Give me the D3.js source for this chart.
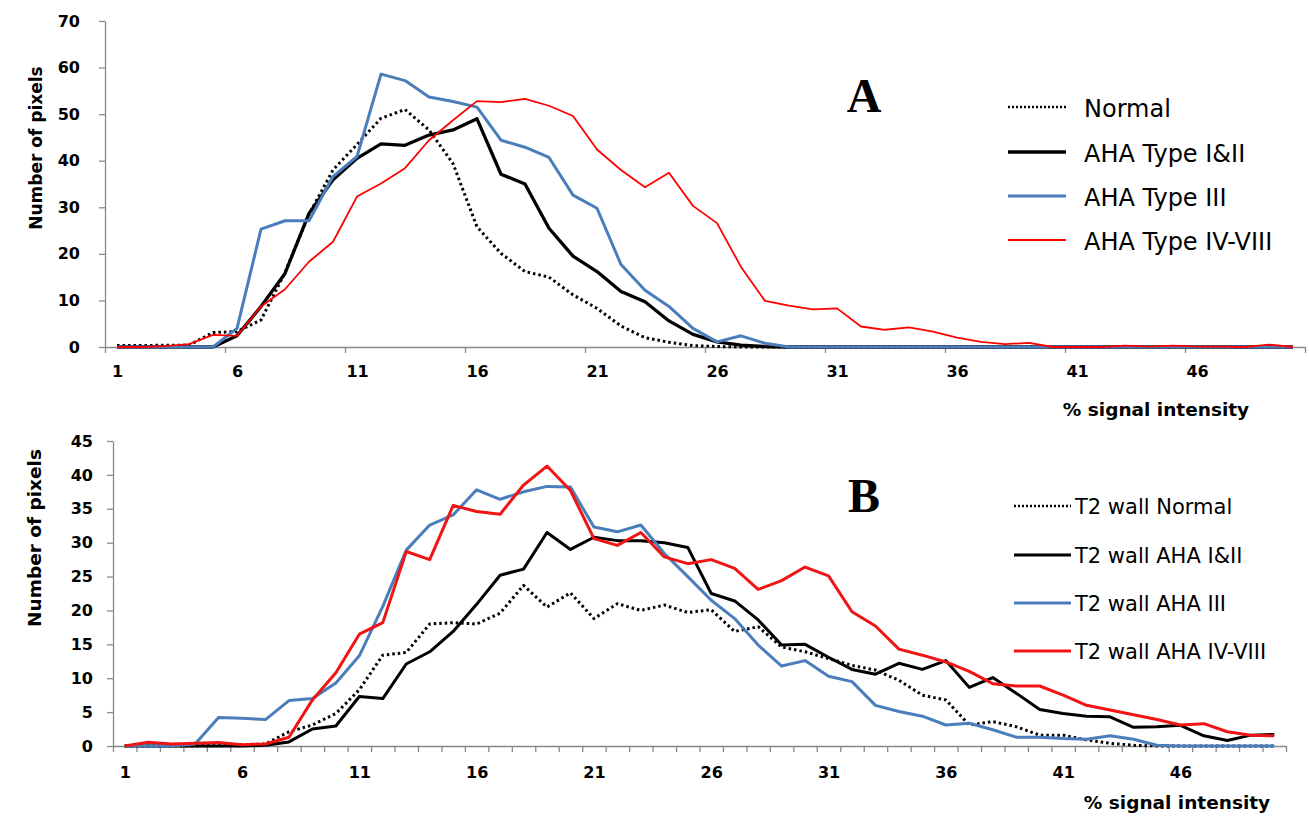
<!DOCTYPE html>
<html><head><meta charset="utf-8">
<script src="https://cdn.jsdelivr.net/npm/d3@7"></script>
<style>body{margin:0;background:#fff} svg{display:block}</style>
</head><body>
<svg id="c" width="1309" height="817"></svg>
<script>
// ---------- data ----------
const categories = [1,2,3,4,5,6,7,8,9,10,11,12,13,14,15,16,17,18,19,20,21,22,23,24,25,26,27,28,29,30,31,32,33,34,35,36,37,38,39,40,41,42,43,44,45,46,47,48,49,50];
const xTickLabels = [1,6,11,16,21,26,31,36,41,46];
const yTicksA = [0,10,20,30,40,50,60,70];
const yTicksB = [0,5,10,15,20,25,30,35,40,45];

const seriesNamesA = ["Normal","AHA Type I&II","AHA Type III","AHA Type IV-VIII"];
const seriesNamesB = ["T2 wall Normal","T2 wall AHA I&II","T2 wall AHA III","T2 wall AHA IV-VIII"];

const normalA = [0.3,0.3,0.4,0.4,3.1,3.3,5.8,16,28.5,38,43.5,49.1,51,46.6,39.4,25.8,20.1,16.2,15,11.2,8.3,4.5,2,1,0.3,0.1,0,0,0,0,0,0,0,0,0,0,0,0,0,0,0,0,0,0,0,0,0,0,0,0];
const ahaI_II_A = [0,0,0,0,0,2.4,8.7,15.8,28.7,35.9,40.5,43.6,43.3,45.5,46.6,49,37.1,35,25.5,19.5,16.2,11.9,9.7,5.6,2.7,1.1,0.4,0.1,0,0,0,0,0,0,0,0,0,0,0,0,0,0,0,0,0,0,0,0,0,0];
const ahaIII_A = [0,0,0,0,0,4,25.3,27.1,27.1,36.6,40.9,58.6,57.2,53.7,52.7,51.5,44.4,42.9,40.7,32.6,29.8,17.7,12.2,8.7,4,1.1,2.4,0.8,0,0,0,0,0,0,0,0,0,0,0,0,0,0,0,0,0,0,0,0,0,0];
const ahaIV_VIII_A = [0,0,0.2,0.6,2.6,2.4,8.7,12.4,18.3,22.6,32.3,35.1,38.4,44.4,48.7,52.8,52.6,53.3,51.8,49.6,42.4,38,34.3,37.4,30.3,26.6,17.2,9.9,8.9,8.1,8.3,4.4,3.7,4.2,3.3,2,1.1,0.6,0.9,0,0,0,0.3,0.1,0.3,0.1,0.1,0,0.5,0];

const normalB = [0,0,0,0,0.2,0.2,0.3,2.1,3.1,4.8,8.3,13.4,13.8,18,18.2,18,19.6,23.7,20.5,22.6,18.8,21,20,20.8,19.7,20.1,16.9,17.6,14.6,13.9,12.9,11.9,11.2,9.7,7.5,6.8,3.1,3.6,2.85,1.6,1.6,0.9,0.4,0.1,0,0,0,0,0,0];
const ahaI_II_B = [0,0,0,0,0,0,0.1,0.6,2.5,2.95,7.3,7,12.1,13.9,16.9,20.9,25.2,26.1,31.5,29,30.8,30.3,30.3,30,29.3,22.5,21.4,18.6,14.9,15,13.1,11.3,10.6,12.2,11.3,12.6,8.65,10.1,7.8,5.4,4.8,4.4,4.3,2.75,2.85,3.05,1.5,0.8,1.6,1.7];
const ahaIII_B = [0,0,0,0.3,4.2,4.1,3.9,6.7,7,9.3,13.3,20.6,28.9,32.6,34.1,37.8,36.4,37.5,38.3,38.2,32.3,31.6,32.6,28.4,25,21.5,18.8,14.9,11.8,12.6,10.3,9.5,6,5.1,4.4,3.1,3.35,2.4,1.3,1.3,1.1,1,1.5,1,0.1,0,0,0,0,0];
const ahaIV_VIII_B = [0,0.54,0.3,0.4,0.5,0.2,0.3,1.3,6.8,10.8,16.5,18.2,28.7,27.5,35.5,34.6,34.2,38.5,41.3,37.7,30.6,29.6,31.5,27.9,26.9,27.5,26.2,23.1,24.4,26.4,25.1,19.8,17.7,14.3,13.4,12.4,11,9.2,8.85,8.85,7.5,6,5.3,4.6,3.9,3.1,3.3,2.1,1.6,1.5];

// ---------- drawing ----------
const svg = d3.select('#c');
const AXIS = '#898989';
const FONT = "'DejaVu Sans', sans-serif";

function panel(cfg) {
  const g = svg.append('g');
  const x = d3.scaleLinear().domain([0.5, categories.length + 0.5]).range([cfg.left, cfg.right]);
  const y = d3.scaleLinear().domain([0, cfg.yMax]).range([cfg.bottom, cfg.top]);

  const bounds = d3.range(0.5, categories.length + 0.51, cfg.tickEvery);
  const xa = g.append('g').attr('transform', `translate(0,${cfg.bottom})`)
    .call(d3.axisBottom(x).tickValues(bounds).tickSize(6).tickSizeOuter(0).tickFormat(''));
  xa.selectAll('path,line').attr('stroke', AXIS).attr('stroke-width', 1.3);

  const xl = g.append('g').attr('transform', `translate(0,${cfg.bottom})`)
    .call(d3.axisBottom(x).tickValues(xTickLabels).tickSize(0).tickPadding(cfg.xPad));
  xl.select('.domain').remove();
  xl.selectAll('text').attr('font-family', FONT).attr('font-weight', 'bold').attr('font-size', 16).attr('fill', '#000');

  const ya = g.append('g').attr('transform', `translate(${cfg.left},0)`)
    .call(d3.axisLeft(y).tickValues(cfg.yTicks).tickSize(6).tickSizeOuter(0).tickPadding(cfg.yPad));
  ya.selectAll('path,line').attr('stroke', AXIS).attr('stroke-width', 1.3);
  ya.selectAll('text').attr('font-family', FONT).attr('font-weight', 'bold').attr('font-size', 16).attr('fill', '#000');

  g.append('text').attr('transform', `translate(${cfg.yTitleX},${cfg.yTitleY}) rotate(-90)`)
    .attr('text-anchor', 'middle').attr('dy', '0.35em')
    .attr('font-family', FONT).attr('font-weight', 'bold').attr('font-size', cfg.yTitleSize).attr('fill', '#000')
    .text('Number of pixels');
  g.append('text').attr('x', cfg.xTitleX).attr('y', cfg.xTitleY).attr('dy', '0.35em')
    .attr('text-anchor', 'middle')
    .attr('font-family', FONT).attr('font-weight', 'bold').attr('font-size', 18.5).attr('fill', '#000')
    .text('% signal intensity');

  const line = d3.line().x((d, i) => x(categories[i])).y(d => y(d));
  cfg.series.forEach(s => {
    g.append('path').datum(s.values).attr('d', line).attr('fill', 'none')
      .attr('stroke', s.color).attr('stroke-width', s.width)
      .attr('stroke-linejoin', 'round')
      .attr('stroke-dasharray', s.dash || null);
  });

  g.append('text').attr('x', cfg.letterX).attr('y', cfg.letterY).attr('text-anchor', 'middle')
    .attr('font-family', "'Liberation Serif', serif").attr('font-weight', 'bold')
    .attr('font-size', 48).attr('fill', '#000').text(cfg.letter);

  cfg.series.forEach((s, i) => {
    const yy = cfg.legY[i];
    g.append('line').attr('x1', cfg.legX1).attr('x2', cfg.legX2).attr('y1', yy).attr('y2', yy)
      .attr('stroke', s.color).attr('stroke-width', s.legWidth)
      .attr('stroke-dasharray', s.dash ? '2 2' : null);
    g.append('text').attr('x', cfg.legTextX).attr('y', yy + cfg.legTextDy).attr('dy', '0.35em')
      .attr('font-family', FONT).attr('font-size', cfg.legSize).attr('fill', '#000')
      .text(s.name);
  });
}

panel({
  left: 105, right: 1305, top: 21, bottom: 347, yMax: 70, yTicks: yTicksA,
  tickEvery: 5, xPad: 19, yPad: 19,
  yTitleX: 36, yTitleY: 148, yTitleSize: 17,
  xTitleX: 1156, xTitleY: 410,
  letter: 'A', letterX: 864, letterY: 112,
  legX1: 1008, legX2: 1066, legTextX: 1084, legTextDy: 2, legSize: 24,
  legY: [107, 152, 196, 240],
  series: [
    {name: seriesNamesA[0], values: normalA, color: '#000', width: 3, dash: '2.5 3', legWidth: 2.5},
    {name: seriesNamesA[1], values: ahaI_II_A, color: '#000', width: 3.3, legWidth: 3.5},
    {name: seriesNamesA[2], values: ahaIII_A, color: '#4a7ebb', width: 3, legWidth: 3},
    {name: seriesNamesA[3], values: ahaIV_VIII_A, color: '#ff0000', width: 1.8, legWidth: 2}
  ]
});

panel({
  left: 113, right: 1286, top: 441, bottom: 746, yMax: 45, yTicks: yTicksB,
  tickEvery: 1, xPad: 21, yPad: 14,
  yTitleX: 35, yTitleY: 538, yTitleSize: 18.5,
  xTitleX: 1177, xTitleY: 803,
  letter: 'B', letterX: 864, letterY: 512,
  legX1: 1014, legX2: 1071, legTextX: 1075, legTextDy: 1, legSize: 21,
  legY: [506, 555, 603, 651],
  series: [
    {name: seriesNamesB[0], values: normalB, color: '#000', width: 3, dash: '2.5 3', legWidth: 2.5},
    {name: seriesNamesB[1], values: ahaI_II_B, color: '#000', width: 3, legWidth: 3},
    {name: seriesNamesB[2], values: ahaIII_B, color: '#4a7ebb', width: 3, legWidth: 3},
    {name: seriesNamesB[3], values: ahaIV_VIII_B, color: '#f01414', width: 3, legWidth: 3}
  ]
});
</script>
</body></html>
